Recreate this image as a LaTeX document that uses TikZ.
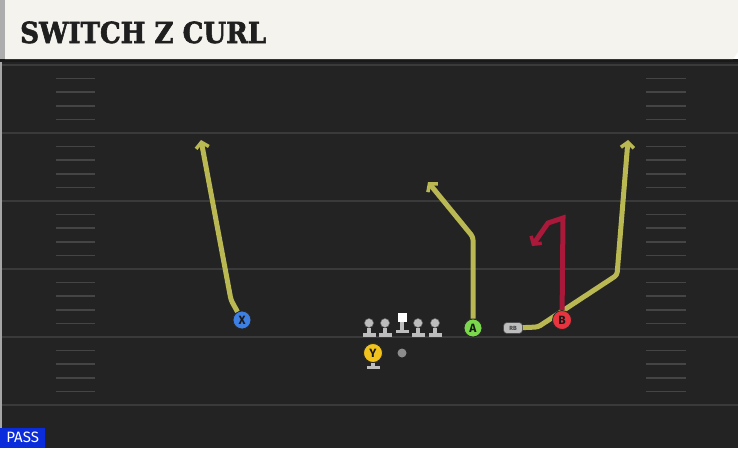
\documentclass[tikz,border=0pt]{standalone}
\usepackage{fontspec}
\setsansfont{Fira Sans}
\newfontfamily\titlefont{DejaVu Serif}[FakeStretch=0.9, FakeBold=2]
\usetikzlibrary{arrows.meta, positioning}
\definecolor{field}{HTML}{232323}
\definecolor{yardline}{HTML}{3A3A3A}
\definecolor{hashmark}{HTML}{454545}
\definecolor{banner}{HTML}{F5F3EE}
\definecolor{route}{HTML}{B9B852}
\definecolor{block}{HTML}{A8193A}
\definecolor{xblue}{HTML}{3D7FE3}
\definecolor{agreen}{HTML}{7BD84C}
\definecolor{bred}{HTML}{E8343F}
\definecolor{yyellow}{HTML}{F2C31C}
\definecolor{stance}{HTML}{BDBDBD}
\definecolor{passblue}{HTML}{0B2CDB}
\tikzset{
  player/.style={circle, draw=black!85, line width=0.8pt, minimum size=18pt, inner sep=0pt, font=\sffamily\bfseries\fontsize{12}{12}\selectfont, text=black!90},
  head/.style={circle, fill=stance, draw=black!60, line width=0.5pt, minimum size=9pt, inner sep=0pt},
  foot/.style={rectangle, fill=stance, minimum width=13pt, minimum height=3.5pt, inner sep=0pt},
  stem/.style={stance, line width=4.5pt},
  run/.style={route, line width=5pt, line join=round, rounded corners=3pt, -{Straight Barb[length=5.5pt, width=13pt, line width=3.5pt]}},
  blockrun/.style={run, block, sharp corners, line join=miter}
}
\begin{document}
\begin{tikzpicture}[x=1pt, y=-1pt]
            \useasboundingbox (0,0) rectangle (738,448);
            \fill[field] (0,59) rectangle (738,448);
            \fill[black!90] (0,59) rectangle (738,62);
            \fill[black!35] (0,62) rectangle (2,448);
            \fill[banner] (5,0) -- (738,0) -- (738,52) -- (733,59) -- (5,59) -- cycle;
            \fill[black!32] (0,0) rectangle (5,59);
            \node[anchor=base west, inner sep=0pt, font=\titlefont\bfseries\fontsize{29}{29}\selectfont, text=black!88] (title) at (20,43) {SWITCH Z CURL};

            \foreach \y in {65,133,201,269,337,405}
                  \draw[yardline, line width=2pt] (2,\y) -- (738,\y);
            \foreach \y in {65,133,201,269,337} {
                  \foreach \k in {1,...,4} {
                        \draw[hashmark, line width=1.5pt] (56,\y+13.6*\k) -- (95,\y+13.6*\k);
                        \draw[hashmark, line width=1.5pt] (646,\y+13.6*\k) -- (686,\y+13.6*\k);
                  }
            }

            \foreach \n/\x in {lt/369, lg/385, rg/418, rt/435} {
                  \node[head] (\n) at (\x,323) {};
                  \node[foot] (\n-foot) at (\x,335) {};
                  \draw[stem] (\n.south) -- (\n-foot.north);
            }
            \node[rectangle, fill=white, minimum size=9pt, inner sep=0pt] (c) at (402,317.5) {};
            \node[foot] (c-foot) at (402,331.5) {};
            \draw[stem] (c.south) -- (c-foot.north);
            \node[circle, fill=black!45, minimum size=9pt, inner sep=0pt] (qb) at (402,353) {};

            \node[player, fill=yyellow, minimum size=19pt] (y) at (373,353) {Y};
            \node[foot] (y-foot) at (373,367.5) {};
            \draw[stem] (y.south) -- (y-foot.north);

            \node[player, fill=xblue] (x) at (242,320) {X};
            \coordinate (x-bend) at (231,300);
            \coordinate (x-end) at (201,140);
            \draw[run] (x) -- (x-bend) -- (x-end);

            \node[player, fill=agreen] (a) at (473,328) {A};
            \coordinate (a-bend) at (473,237);
            \coordinate (a-end) at (428,182);
            \draw[run] (a) -- (a-bend) -- (a-end);

            \node[rectangle, rounded corners=3.5pt, fill=stance, draw=black!70, line width=0.6pt, minimum width=19pt, minimum height=11pt, inner sep=0pt, font=\sffamily\bfseries\fontsize{6}{6}\selectfont, text=black!75] (rb) at (513,328) {RB};
            \coordinate (rb-flat) at (538,327);
            \coordinate (rb-bend) at (617,275);
            \coordinate (rb-end) at (628,140);
            \draw[run] (rb) -- (rb-flat) -- (rb-bend) -- (rb-end);

            \node[player, fill=bred, minimum size=19pt] (b) at (562,320) {B};
            \coordinate (b-top) at (563,218);
            \coordinate (b-turn) at (548,223);
            \coordinate (b-end) at (532,246);
            \draw[blockrun] (b) -- (b-top) -- (b-turn) -- (b-end);

            \node[fill=passblue, text=white, anchor=south west, minimum width=45pt, minimum height=20pt, inner sep=0pt, font=\sffamily\fontsize{15}{15}\selectfont] (play-type) at (0,448) {PASS};
      \end{tikzpicture}
\end{document}
